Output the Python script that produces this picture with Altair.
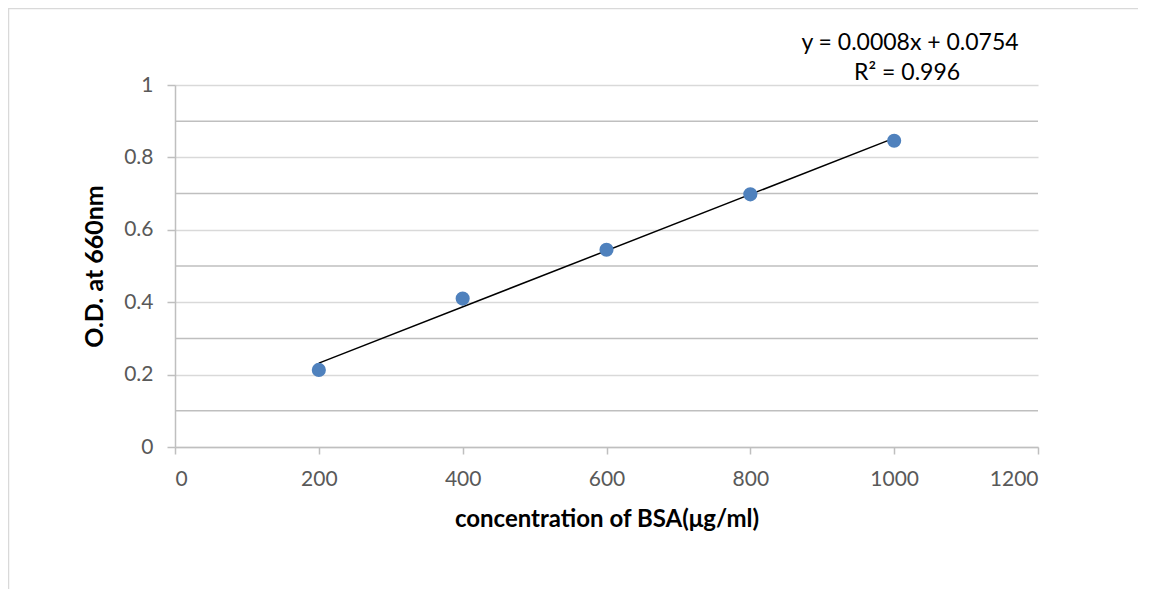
import altair as alt
import pandas as pd

conc = [200, 400, 600, 800, 1000]
od = [0.213, 0.41, 0.545, 0.698, 0.846]
major_y = [0, 0.2, 0.4, 0.6, 0.8, 1.0]
minor_y = [0.1, 0.3, 0.5, 0.7, 0.9]
x_ticks = [0, 200, 400, 600, 800, 1000, 1200]
eq_lines = ["y = 0.0008x + 0.0754", "R² = 0.996"]
eq_x = [1022, 1018]
eq_y = [1.117, 1.034]

FONT = "Lato"

df = pd.DataFrame({"conc": conc, "od": od})
minor_df = pd.DataFrame({"v": minor_y})
eq_df = pd.DataFrame({"t": eq_lines, "x": eq_x, "y": eq_y})

xs = alt.Scale(domain=[0, 1200], nice=False)
ys = alt.Scale(domain=[0, 1], nice=False)

frame = alt.Chart(pd.DataFrame({"a": [0]})).mark_rect(
    fill=None, stroke="#d9d9d9", strokeWidth=1.5, clip=False
).encode(
    x=alt.value(-166.5), x2=alt.value(3000),
    y=alt.value(-76.5), y2=alt.value(3000)
)

minor = alt.Chart(minor_df).mark_rule(color="#bfbfbf", strokeWidth=1.5).encode(
    y=alt.Y("v:Q", scale=ys)
)

points = alt.Chart(df).mark_circle(size=200, color="#4f81bd", opacity=1).encode(
    x=alt.X("conc:Q", scale=xs,
            axis=alt.Axis(values=x_ticks, title="concentration of BSA(μg/ml)",
                          format="d",
                          grid=False, domainColor="#bfbfbf", domainWidth=1.5,
                          tickColor="#bfbfbf", tickWidth=1.5, tickSize=7,
                          labelPadding=14, labelColor="#595959",
                          labelFontSize=21, labelFont=FONT,
                          titleFont=FONT, titleFontSize=24, titleFontWeight="bold",
                          titleColor="#000000", titlePadding=18)),
    y=alt.Y("od:Q", scale=ys,
            axis=alt.Axis(values=major_y, title="O.D. at 660nm",
                          grid=True, gridColor="#d9d9d9", gridWidth=1.5,
                          domainColor="#bfbfbf", domainWidth=1.5,
                          tickColor="#bfbfbf", tickWidth=1.5, tickSize=8,
                          labelPadding=14, labelColor="#595959",
                          labelFontSize=21, labelFont=FONT,
                          labelExpr="datum.value == 0 ? '0' : (datum.value == 1 ? '1' : format(datum.value, '.1f'))",
                          titleFont=FONT, titleFontSize=25, titleFontWeight="bold",
                          titleColor="#000000", titlePadding=16))
)

trend = alt.Chart(df).transform_regression("conc", "od").mark_line(
    color="#000000", strokeWidth=1.5
).encode(
    x=alt.X("conc:Q", scale=xs),
    y=alt.Y("od:Q", scale=ys)
)

eq = alt.Chart(eq_df).mark_text(
    font=FONT, fontSize=23, color="#000000", align="center", baseline="middle", clip=False
).encode(
    x=alt.X("x:Q", scale=xs),
    y=alt.Y("y:Q", scale=ys),
    text="t:N"
)

chart = alt.layer(frame, minor, trend, points, eq).properties(
    width=863, height=362,
    autosize=alt.AutoSizeParams(type="none"),
    padding={"left": 167, "top": 77, "right": 100, "bottom": 142},
).configure_view(stroke=None)

chart.save("out.html", embed_options={"renderer": "svg", "actions": False})
